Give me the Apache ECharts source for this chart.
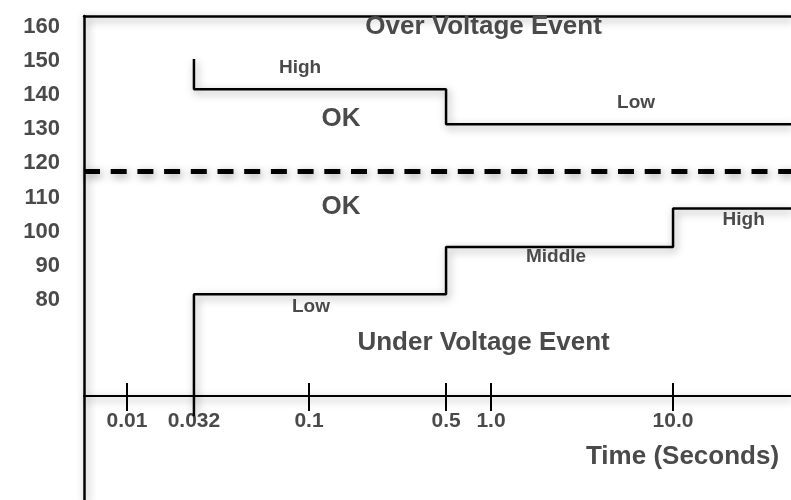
<!DOCTYPE html>
<html>
<head>
<meta charset="utf-8">
<script src="https://cdn.jsdelivr.net/npm/echarts@6/dist/echarts.min.js"></script>
<style>
  html, body { margin: 0; padding: 0; background: #fff; }
  #chart { width: 791px; height: 500px; }
</style>
</head>
<body>
<div id="chart"></div>
<script>
// voltage tick labels on the left
const yLabels = [80, 90, 100, 110, 120, 130, 140, 150, 160];

// time axis: the drawing is a schematic log scale, positions are in decades (log10 s)
const tickLabels = ['0.01', '0.032', '0.1', '0.5', '1.0', '10.0'];
const tickPos = [-2, -1.632, -1, -0.247, 0, 1];

// over voltage limit: starts at 150, steps down at 0.5 s
const overTop = 150.5;
const overTimes = [-1.632, -0.247];
const overLevels = [141.7, 131.4];

// under voltage limit: starts below the axis, steps up at 0.5 s and 10 s
const underBottom = 46;
const underTimes = [-1.632, -0.247, 1];
const underLevels = [81.7, 95.5, 106.8];

const nominalLevel = 117.6;

// annotations [x, y, text]
const bigNotes = [
  [-0.041, 160.0, 'Over Voltage Event'],
  [-0.824, 133.1, 'OK'],
  [-0.824, 107.3, 'OK'],
  [-0.041, 67.6, 'Under Voltage Event'],
  [1.052, 34.2, 'Time (Seconds)']
];
const smallNotes = [
  [-1.049, 147.9, 'High'],
  [0.797, 137.7, 'Low'],
  [0.357, 92.6, 'Middle'],
  [1.388, 103.4, 'High'],
  [-0.989, 78.1, 'Low']
];

const X_MIN = -2.236, X_MAX = 1.648;
const Y_MIN = 21.5, Y_MAX = 163.1;

const textColor = '#4a4a4a';
const font = '"Liberation Sans", Arial, sans-serif';
const shadow = {
  shadowColor: 'rgba(0,0,0,0.4)',
  shadowBlur: 9,
  shadowOffsetX: 2,
  shadowOffsetY: 3
};

function stepPath(start, times, levels) {
  let pts = [[times[0], start]];
  for (let i = 0; i < times.length; i++) {
    pts.push([times[i], levels[i]]);
    let next = i + 1 < times.length ? times[i + 1] : X_MAX;
    pts.push([next, levels[i]]);
  }
  return pts;
}

function noteSeries(notes, size) {
  return {
    type: 'scatter',
    symbolSize: 0,
    silent: true,
    z: 5,
    itemStyle: { opacity: 1 },
    data: notes.map(n => ({ value: [n[0], n[1]], name: n[2] })),
    label: {
      show: true,
      position: 'inside',
      formatter: '{b}',
      fontFamily: font,
      fontSize: size,
      fontWeight: 'bold',
      color: textColor,
      textBorderWidth: 0,
      align: 'center',
      verticalAlign: 'middle'
    }
  };
}

let chart = echarts.init(document.getElementById('chart'));
let option = {
  animation: false,
  backgroundColor: '#fff',
  grid: { left: 84, right: 0, top: 16, bottom: 0, outerBoundsMode: 'none' },
  xAxis: [{
    type: 'value',
    min: X_MIN,
    max: X_MAX,
    position: 'bottom',
    offset: -104,
    axisLine: { show: true, onZero: false, lineStyle: Object.assign({ color: '#000', width: 2 }, shadow) },
    axisTick: { show: true, customValues: tickPos, length: 15, lineStyle: { color: '#000', width: 2 } },
    axisLabel: {
      customValues: tickPos,
      margin: 15,
      fontFamily: font,
      fontSize: 21,
      fontWeight: 'bold',
      color: textColor,
      formatter: function (v) {
        let i = tickPos.findIndex(p => Math.abs(p - v) < 1e-6);
        return i >= 0 ? tickLabels[i] : '';
      }
    },
    splitLine: { show: false }
  }, {
    // upper half of the crossing ticks
    type: 'value',
    min: X_MIN,
    max: X_MAX,
    position: 'bottom',
    offset: -104,
    axisLine: { show: false, onZero: false },
    axisTick: { show: true, inside: true, customValues: tickPos, length: 13, lineStyle: { color: '#000', width: 2 } },
    axisLabel: { show: false },
    splitLine: { show: false }
  }, {
    // top frame line
    type: 'value',
    min: X_MIN,
    max: X_MAX,
    position: 'top',
    axisLine: { show: true, onZero: false, lineStyle: Object.assign({ color: '#000', width: 2.5 }, shadow) },
    axisTick: { show: false },
    axisLabel: { show: false },
    splitLine: { show: false }
  }],
  yAxis: {
    type: 'value',
    min: Y_MIN,
    max: Y_MAX,
    axisLine: { show: true, onZero: false, lineStyle: Object.assign({ color: '#000', width: 2.5 }, shadow) },
    axisTick: { show: false },
    axisLabel: {
      customValues: yLabels,
      margin: 24,
      fontFamily: font,
      fontSize: 22,
      fontWeight: 'bold',
      color: textColor
    },
    splitLine: { show: false }
  },
  series: [{
    name: 'nominal',
    type: 'line',
    symbol: 'none',
    silent: true,
    data: [[X_MIN, nominalLevel], [X_MAX, nominalLevel]],
    lineStyle: Object.assign({ color: '#000', width: 5, type: [16, 10.7] }, shadow)
  }, {
    name: 'over',
    type: 'line',
    symbol: 'none',
    silent: true,
    data: stepPath(overTop, overTimes, overLevels),
    lineStyle: Object.assign({ color: '#000', width: 2.5 }, shadow)
  }, {
    name: 'under',
    type: 'line',
    symbol: 'none',
    silent: true,
    clip: false,
    data: stepPath(underBottom, underTimes, underLevels),
    lineStyle: Object.assign({ color: '#000', width: 2.5 }, shadow)
  },
    noteSeries(bigNotes, 26),
    noteSeries(smallNotes, 19)
  ]
};
chart.setOption(option);
</script>
</body>
</html>
